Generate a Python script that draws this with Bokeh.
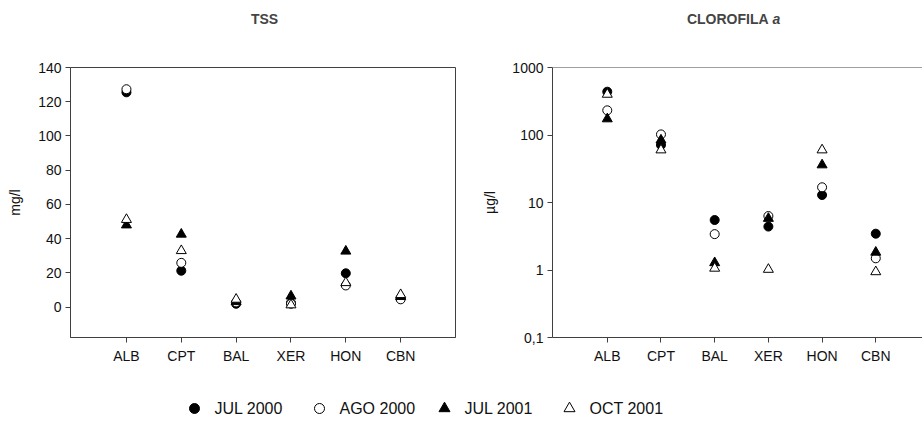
from bokeh.plotting import figure
from bokeh.layouts import column, row
from bokeh.models import Range1d, FixedTicker, Span, Label
from bokeh.embed import file_html
from bokeh.resources import INLINE

# Sampling stations and campaigns
stations = ["ALB", "CPT", "BAL", "XER", "HON", "CBN"]
campaigns = ["JUL 2000", "AGO 2000", "JUL 2001", "OCT 2001"]

# Total suspended solids (mg/l), one list per campaign, in station order
tss_jul2000 = [125.5, 21.3, 2.0, 2.5, 19.8, 5.2]
tss_ago2000 = [127.3, 25.9, 2.8, 2.0, 12.7, 4.6]
tss_jul2001 = [48.0, 42.6, 3.2, 6.5, 32.7, 6.2]
tss_oct2001 = [51.2, 33.0, 4.6, 1.3, 14.3, 7.3]

# Chlorophyll a (ug/l), one list per campaign, in station order
chl_jul2000 = [438, 71, 5.5, 4.4, 12.9, 3.45]
chl_ago2000 = [232, 102, 3.4, 6.3, 16.8, 1.49]
chl_jul2001 = [173, 84, 1.28, 5.8, 36, 1.83]
chl_oct2001 = [400, 60, 1.06, 1.02, 60, 0.94]

tss_ticks = [0, 20, 40, 60, 80, 100, 120, 140]
chl_ticks = [0.1, 1, 10, 100, 1000]
chl_tick_labels = ["0,1", "1", "10", "100", "1000"]

# marker shape and fill per campaign (filled / hollow)
MARKERS = [("circle", "black"), ("circle", "white"),
           ("triangle", "black"), ("triangle", "white")]
SIZES = {"circle": 9, "triangle": 10}

FONT = "Liberation Sans"
AXIS_COLOR = "#404040"
xs = list(range(1, len(stations) + 1))


def style_axes(p, ylabel, standoff):
    for ax in (p.xaxis[0], p.yaxis[0]):
        ax.axis_line_color = AXIS_COLOR
        ax.major_tick_line_color = AXIS_COLOR
        ax.major_tick_out = 5
        ax.major_tick_in = 0
        ax.minor_tick_line_color = None
        ax.major_label_text_font = FONT
        ax.major_label_text_font_size = "14px"
        ax.major_label_text_color = "#111111"
        ax.major_label_standoff = 4
    p.xaxis.ticker = FixedTicker(ticks=xs)
    p.xaxis.major_label_overrides = {i: s for i, s in zip(xs, stations)}
    p.xaxis.major_label_standoff = 5
    p.yaxis.axis_label = ylabel
    p.yaxis.axis_label_text_font = FONT
    p.yaxis.axis_label_text_font_size = "14px"
    p.yaxis.axis_label_text_font_style = "normal"
    p.yaxis.axis_label_text_color = "#111111"
    p.yaxis.axis_label_standoff = standoff
    p.xgrid.grid_line_color = None
    p.ygrid.grid_line_color = None


def draw_series(p, series):
    for vals, (marker, fill) in zip(series, MARKERS):
        p.scatter(xs, vals, marker=marker, size=SIZES[marker],
                  fill_color=fill, line_color="black", line_width=1)


# --- TSS panel (linear) ---
p1 = figure(width=460, height=335, output_backend="svg", toolbar_location=None,
            x_range=Range1d(-0.02, 7.0), y_range=Range1d(-17.7, 140),
            min_border_left=70, min_border_right=5, min_border_top=27,
            min_border_bottom=32)
p1.outline_line_color = AXIS_COLOR
style_axes(p1, "mg/l", 12)
p1.yaxis.ticker = FixedTicker(ticks=tss_ticks)
draw_series(p1, [tss_jul2000, tss_ago2000, tss_jul2001, tss_oct2001])

# --- Chlorophyll a panel (log) ---
p2 = figure(width=462, height=335, output_backend="svg", toolbar_location=None,
            x_range=Range1d(-0.02, 6.87), y_range=Range1d(0.1, 1000),
            y_axis_type="log",
            min_border_left=92, min_border_right=0, min_border_top=27,
            min_border_bottom=38)
p2.outline_line_color = None
style_axes(p2, "µg/l", 11)
p2.yaxis.ticker = FixedTicker(ticks=chl_ticks)
p2.yaxis.major_label_overrides = {t: s for t, s in zip(chl_ticks, chl_tick_labels)}
p2.add_layout(Span(location=1000, dimension="width", line_color=AXIS_COLOR,
                   line_width=1))
draw_series(p2, [chl_jul2000, chl_ago2000, chl_jul2001, chl_oct2001])

# --- panel titles ---
head = figure(width=922, height=40, output_backend="svg", toolbar_location=None,
              x_range=Range1d(0, 922), y_range=Range1d(0, 40),
              min_border=0, outline_line_color=None)
head.axis.visible = False
head.grid.visible = False
TITLE_SIZE = "14px"
head.add_layout(Label(x=264, y=22, text="TSS", text_font=FONT,
                      text_font_size=TITLE_SIZE, text_font_style="bold",
                      text_align="center", text_baseline="middle"))
head.add_layout(Label(x=772, y=22, text="CLOROFILA ", text_font=FONT,
                      text_font_size=TITLE_SIZE, text_font_style="bold",
                      text_align="right", text_baseline="middle"))
head.add_layout(Label(x=772, y=22, text="a", text_font=FONT,
                      text_font_size=TITLE_SIZE, text_font_style="bold italic",
                      text_align="left", text_baseline="middle"))

# --- shared legend ---
leg = figure(width=922, height=62, output_backend="svg", toolbar_location=None,
             x_range=Range1d(0, 922), y_range=Range1d(0, 62),
             min_border=0, outline_line_color=None)
leg.axis.visible = False
leg.grid.visible = False
leg_x0, leg_step, leg_y = 194, 125, 29
for i, (name, (marker, fill)) in enumerate(zip(campaigns, MARKERS)):
    gx = leg_x0 + i * leg_step
    leg.scatter([gx], [leg_y], marker=marker, size=SIZES[marker] + 1,
                fill_color=fill, line_color="black", line_width=1)
    leg.add_layout(Label(x=gx + 20, y=leg_y, text=name, text_font=FONT,
                         text_font_size="16px", text_baseline="middle",
                         text_color="#111111"))

layout = column(head, row(p1, p2), leg)
open("out.html", "w").write(file_html(layout, INLINE))
